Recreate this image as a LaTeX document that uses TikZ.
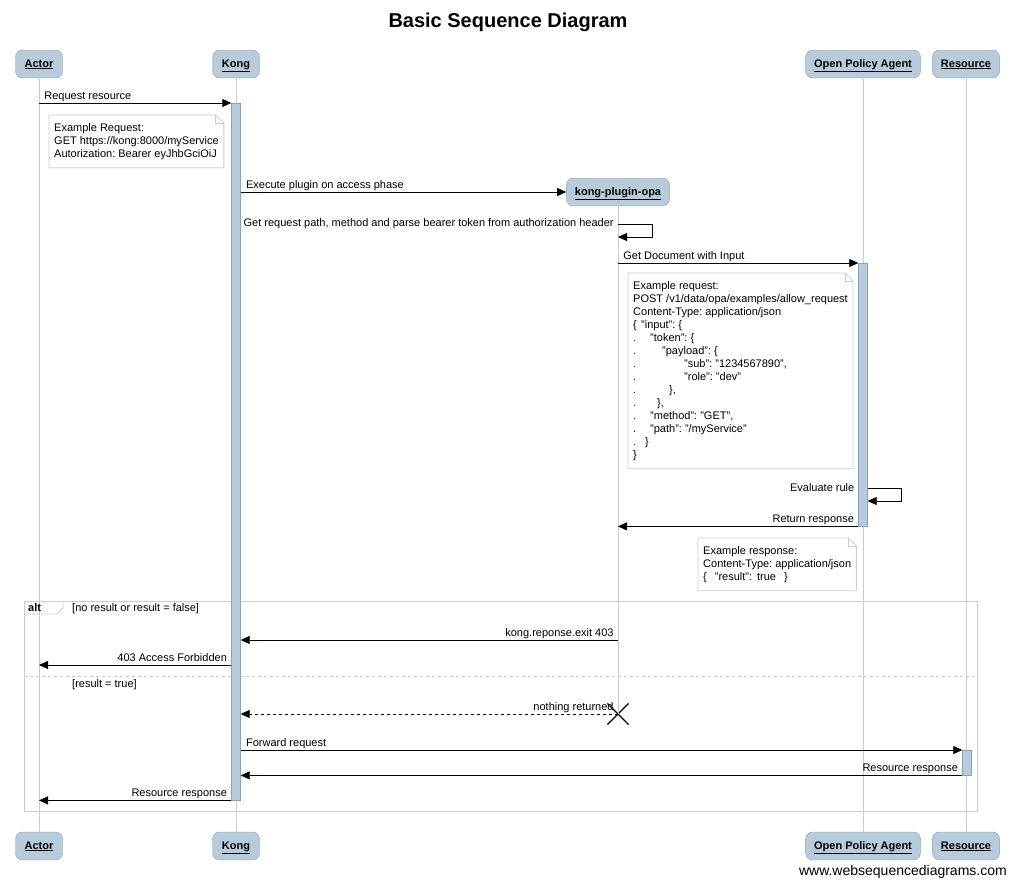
\documentclass[tikz,border=0pt]{standalone}
\usepackage{fontspec}
\setmainfont{Liberation Sans}
\usepackage{tikz}
\usetikzlibrary{arrows.meta, shapes.misc}
\definecolor{boxblue}{RGB}{184,203,218}
\definecolor{boxedge}{RGB}{138,163,188}
\definecolor{linegray}{RGB}{204,204,204}
\tikzset{>=latex}
\tikzset{
actorbox/.style={draw=boxedge, fill=boxblue, rounded corners=7pt, minimum height=28pt, minimum width=47pt, inner xsep=8.5pt, text height=7pt, text depth=1pt, font=\fontsize{11}{13}\selectfont\bfseries},
lifeline/.style={draw=linegray, line width=0.8pt},
actbar/.style={draw=boxedge, fill=boxblue, minimum width=9pt, inner sep=0pt},
msg/.style={-{Triangle[length=9pt,width=8pt]}, line width=0.8pt},
lblright/.style={pos=0, anchor=base west, inner sep=0pt, xshift=5pt, yshift=3.5pt},
lblleft/.style={pos=0, anchor=base east, inner sep=0pt, xshift=-4pt, yshift=3.5pt},
selflbl/.style={pos=0, anchor=east, inner sep=0pt},
note/.style={draw=none, fill=white, align=left, inner xsep=5pt, inner ysep=8pt, anchor=north west},
framegray/.style={draw=linegray, line width=0.8pt}
}
\newcommand{\dogear}[1]{\draw[framegray] (#1.north west) -- ([xshift=-8pt]#1.north east) -- ([yshift=-8pt]#1.north east) -- (#1.south east) -- (#1.south west) -- cycle;
\draw[framegray] ([xshift=-8pt]#1.north east) |- ([yshift=-8pt]#1.north east);}

\begin{document}
\frenchspacing
\begin{tikzpicture}[x=1pt, y=-1pt, font=\fontsize{11}{13}\selectfont]
\useasboundingbox (0,0) rectangle (1015,884);
\node[font=\fontsize{20}{24}\selectfont\bfseries] (title) at (508,22) {Basic Sequence Diagram};
\node[actorbox] (actor) at (39,64) {\underline{Actor}};
\node[actorbox] (kong) at (236,64) {\underline{Kong}};
\node[actorbox] (opa) at (863,64) {\underline{Open Policy Agent}};
\node[actorbox] (res) at (966,64) {\underline{Resource}};
\node[actorbox] (actorb) at (39,846) {\underline{Actor}};
\node[actorbox] (kongb) at (236,846) {\underline{Kong}};
\node[actorbox] (opab) at (863,846) {\underline{Open Policy Agent}};
\node[actorbox] (resb) at (966,846) {\underline{Resource}};
\node[actorbox] (plug) at (618,192) {\underline{kong-plugin-opa}};
\node[cross out, draw, line width=1.2pt, minimum size=20pt, inner sep=0pt] (stop) at (618,714) {};
\draw[lifeline] (actor) -- (actorb);
\draw[lifeline] (kong) -- (kongb);
\draw[lifeline] (opa) -- (opab);
\draw[lifeline] (res) -- (resb);
\draw[lifeline] (plug) -- (stop.center);
\draw[framegray] (24,601) rectangle (977,811);
\draw[framegray] (24,614) -- (57,614) -- (63,608) -- (63,601);
\draw[framegray, dashed] (24,676) -- (977,676);
\node[anchor=base west, inner sep=0pt, font=\fontsize{11}{13}\selectfont\bfseries] (alt) at (28,611) {alt};
\node[anchor=base west, inner sep=0pt] (guard1) at (72,611) {[no result or result = false]};
\node[anchor=base west, inner sep=0pt] (guard2) at (72,687) {[result = true]};
\node[actbar, minimum height=697pt, anchor=north] (kongbar) at (236,103) {};
\node[actbar, minimum height=263pt, anchor=north] (opabar) at (863,263) {};
\node[actbar, minimum height=25pt, anchor=north] (resbar) at (967,750) {};
\draw[msg] (actor |- kongbar.north) -- node[lblright] {Request resource} (kongbar.north west);
\node[note] (reqnote) at (49,115) {Example Request:\\GET https://kong:8000/myService\\Autorization: Bearer eyJhbGciOiJ};
\dogear{reqnote}
\draw[msg] (kongbar.east |- plug) -- node[lblright] {Execute plugin on access phase} (plug);
\draw[msg] (plug |- 0,224) -- node[selflbl, xshift=-4pt] {Get request path, method and parse bearer token from authorization header} ++(34,0) |- (plug |- 0,237);
\draw[msg] (plug |- opabar.north) -- node[lblright] {Get Document with Input} (opabar.north west);
\node[note] (docnote) at (628,273) {Example request:\\POST /v1/data/opa/examples/allow\_request\\Content-Type: application/json\\
\makebox[8pt][l]{\{}"input": \{\\
\makebox[17pt][l]{.}"token": \{\\
\makebox[29pt][l]{.}"payload": \{\\
\makebox[51pt][l]{.}"sub": "1234567890",\\
\makebox[51pt][l]{.}"role": "dev"\\
\makebox[36pt][l]{.}\},\\
\makebox[24pt][l]{.}\},\\
\makebox[17pt][l]{.}"method": "GET",\\
\makebox[17pt][l]{.}"path": "/myService"\\
\makebox[12pt][l]{.}\}\\
\}};
\dogear{docnote}
\draw[msg] (opabar.east |- 0,488) -- node[selflbl, xshift=-13pt] {Evaluate rule} ++(34,0) |- (opabar.east |- 0,501);
\draw[msg] (opabar.south west) -- node[lblleft] {Return response} (plug |- opabar.south);
\node[note] (resnote) at (698,538) {Example response:\\Content-Type: application/json\\\{\hspace{8pt}"result":\hspace{5pt}true\hspace{8pt}\}};
\dogear{resnote}
\draw[msg] (plug |- 0,640) -- node[lblleft] {kong.reponse.exit 403} (kongbar.east |- 0,640);
\draw[msg] (kongbar.west |- 0,665) -- node[lblleft] {403 Access Forbidden} (actor |- 0,665);
\draw[msg, dashed] (stop.center) -- node[lblleft] {nothing returned} (kongbar.east |- stop);
\draw[msg] (kongbar.east |- resbar.north) -- node[lblright] {Forward request} (resbar.north west);
\draw[msg] (resbar.south west) -- node[lblleft] {Resource response} (kongbar.east |- resbar.south);
\draw[msg] (kongbar.south west) -- node[lblleft] {Resource response} (actor |- kongbar.south);
\node[anchor=base east, inner sep=0pt, font=\fontsize{14}{16}\selectfont] (credit) at (1007,875) {www.websequencediagrams.com};
\end{tikzpicture}
\end{document}
